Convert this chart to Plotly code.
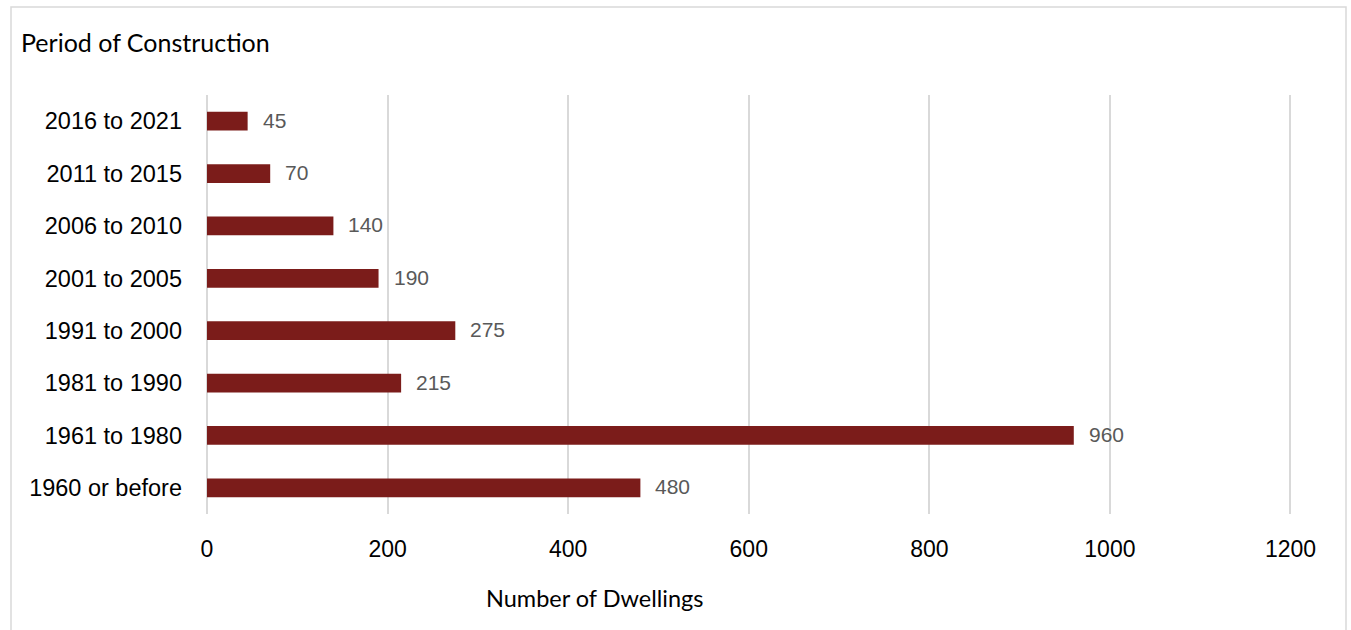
import plotly.graph_objects as go

# Dwellings by period of construction
periods = ["1960 or before", "1961 to 1980", "1981 to 1990", "1991 to 2000",
           "2001 to 2005", "2006 to 2010", "2011 to 2015", "2016 to 2021"]
dwellings = [480, 960, 215, 275, 190, 140, 70, 45]
x_ticks = [0, 200, 400, 600, 800, 1000, 1200]

W, H = 1351, 630
ML, MR, MT, MB = 207, 56, 95, 116
PW, PH = W - ML - MR, H - MT - MB

BAR = "#7B1C1A"
GRID = "#D9D9D9"
TICK_FONT = "Liberation Sans"
TITLE_FONT = "Lato"


def px_x(px):
    return (px - ML) / PW


def px_y(py):
    return (H - MB - py) / PH


fig = go.Figure(go.Bar(
    x=dwellings, y=periods, orientation="h",
    marker=dict(color=BAR, line=dict(width=0)),
    width=0.36, hoverinfo="x+y",
))

# value labels to the right of each bar
for p, v in zip(periods, dwellings):
    fig.add_annotation(x=v, y=p, text=str(v), showarrow=False,
                       xanchor="left", yanchor="middle", xshift=13, yshift=1,
                       font=dict(family=TICK_FONT, size=21, color="#595959"))

# axis title
fig.add_annotation(x=px_x(595), y=px_y(598), xref="paper", yref="paper",
                   text="Number of Dwellings", showarrow=False,
                   xanchor="center", yanchor="middle",
                   font=dict(family=TITLE_FONT, size=23.5, color="#000000"))

# chart frame
fig.add_shape(type="rect", xref="paper", yref="paper",
              x0=px_x(11), x1=px_x(1346), y0=px_y(640), y1=px_y(7),
              line=dict(color="#D9D9D9", width=1.5), fillcolor="rgba(0,0,0,0)",
              layer="below")

fig.update_layout(
    width=W, height=H,
    margin=dict(l=ML, r=MR, t=MT, b=MB, autoexpand=False),
    paper_bgcolor="white", plot_bgcolor="white",
    showlegend=False,
    title=dict(text="Period of Construction", xref="container", yref="container",
               x=21 / W, xanchor="left", y=1 - 43 / H, yanchor="middle",
               font=dict(family=TITLE_FONT, size=25, color="#000000")),
    xaxis=dict(range=[0, 1205], tickvals=x_ticks, ticktext=[str(t) for t in x_ticks],
               showgrid=True, gridcolor=GRID, gridwidth=1.5,
               zeroline=True, zerolinecolor=GRID, zerolinewidth=1.5,
               showline=False, ticks="",
               ticklabelstandoff=19,
               tickfont=dict(family=TICK_FONT, size=23, color="#000000")),
    yaxis=dict(categoryorder="array", categoryarray=periods,
               range=[-0.5, len(periods) - 0.5],
               showgrid=False, zeroline=False, showline=False, ticks="",
               ticklabelstandoff=24,
               tickfont=dict(family=TICK_FONT, size=23.5, color="#000000")),
)

fig.write_html("out.html")
